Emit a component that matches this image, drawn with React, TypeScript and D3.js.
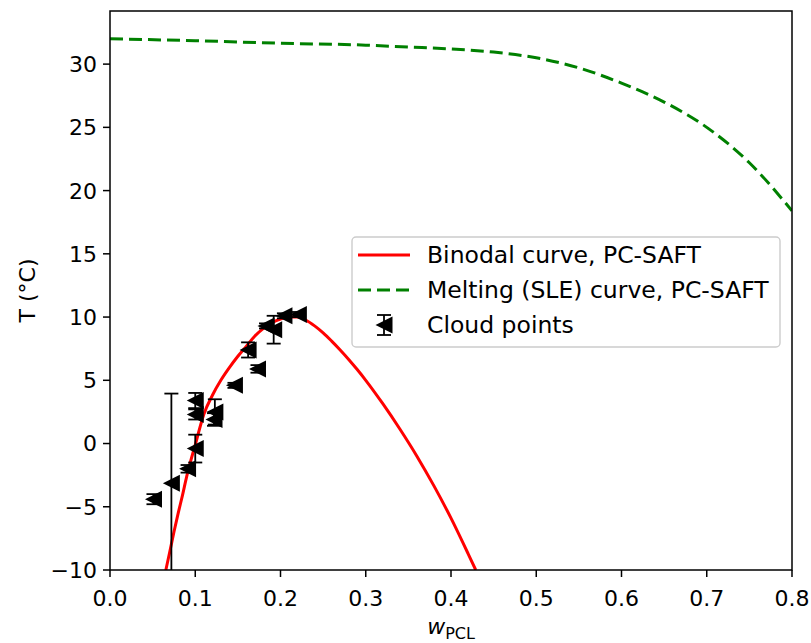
import React from "react";
import * as d3 from "d3";

// binodal curve (PC-SAFT)
const binodalW = [0.0655, 0.07, 0.075, 0.08, 0.085, 0.09, 0.095, 0.1, 0.11, 0.12, 0.13, 0.14, 0.15, 0.16, 0.17, 0.18, 0.19, 0.2, 0.21, 0.22, 0.23, 0.24, 0.25, 0.26, 0.27, 0.28, 0.29, 0.3, 0.32, 0.34, 0.36, 0.38, 0.4, 0.42, 0.429];
const binodalT = [-10, -8.6, -7.0, -5.5, -4.1, -2.6, -1.3, -0.1, 2.3, 3.8, 5.0, 6.0, 6.9, 7.7, 8.5, 9.1, 9.55, 9.85, 10.0, 10.0, 9.75, 9.3, 8.75, 8.1, 7.4, 6.65, 5.85, 5.0, 3.15, 1.15, -1.0, -3.35, -5.9, -8.7, -10];

// melting (SLE) curve
const sleW = [0, 0.1, 0.2, 0.3, 0.35, 0.4, 0.45, 0.5, 0.55, 0.6, 0.65, 0.7, 0.75, 0.8];
const sleT = [32.0, 31.85, 31.65, 31.5, 31.35, 31.2, 30.95, 30.5, 29.7, 28.5, 27.0, 25.0, 22.2, 18.4];

// cloud points with error
const cloudW = [0.051, 0.072, 0.091, 0.1, 0.1, 0.1, 0.123, 0.122, 0.146, 0.173, 0.162, 0.183, 0.192, 0.204, 0.221];
const cloudT = [-4.4, -3.15, -2.0, -0.4, 3.4, 2.3, 2.5, 1.9, 4.6, 5.9, 7.4, 9.3, 9.0, 10.1, 10.2];
const cloudErr = [0.4, 7.1, 0.3, 1.1, 0.6, 0.4, 1.0, 0.5, 0.2, 0.3, 0.6, 0.2, 1.1, 0.2, 0.2];

const xTicks = [0, 0.1, 0.2, 0.3, 0.4, 0.5, 0.6, 0.7, 0.8];
const yTicks = [-10, -5, 0, 5, 10, 15, 20, 25, 30];

const legendLabels = ["Binodal curve, PC-SAFT", "Melting (SLE) curve, PC-SAFT", "Cloud points"];

const W = 811, H = 643;
const margin = { left: 110, right: 19, top: 11, bottom: 73 };
const font = "DejaVu Sans, sans-serif";

const tri = (x: number, y: number, r: number) =>
  `M${x - r},${y}L${x + r},${y - r}L${x + r},${y + r}Z`;

export default function App() {
  const x = d3.scaleLinear().domain([0, 0.8]).range([margin.left, W - margin.right]);
  const y = d3.scaleLinear().domain([-10, 34.2]).range([H - margin.bottom, margin.top]);

  const line = d3.line<[number, number]>().x(d => x(d[0])).y(d => y(d[1])).curve(d3.curveMonotoneX);
  const binodal = line(binodalW.map((w, i) => [w, binodalT[i]]) as [number, number][]);
  const sle = line(sleW.map((w, i) => [w, sleT[i]]) as [number, number][]);

  const x0 = x(0), x1 = x(0.8), y0 = y(-10), y1 = y(34.2);
  const cap = 7;
  const ms = 8.5;

  const lg = { x: 352, y: 237, w: 428, h: 110 };
  const rowY = [255, 290, 325];

  return (
    <div style={{ position: "absolute", left: 0, top: 0 }}>
      <svg width={W} height={H} style={{ display: "block", background: "white" }}>
        <defs>
          <clipPath id="plotArea">
            <rect x={x0} y={y1} width={x1 - x0} height={y0 - y1} />
          </clipPath>
        </defs>

        <g clipPath="url(#plotArea)">
          <path d={binodal ?? ""} fill="none" stroke="#ff0000" strokeWidth={3} />
          <path d={sle ?? ""} fill="none" stroke="#008000" strokeWidth={3} strokeDasharray="13,6" />
          {cloudW.map((w, i) => {
            const cx = x(w), cy = y(cloudT[i]);
            const top = y(cloudT[i] + cloudErr[i]), bot = y(cloudT[i] - cloudErr[i]);
            return (
              <g key={i}>
                <line x1={cx} x2={cx} y1={top} y2={bot} stroke="black" strokeWidth={1.8} />
                <line x1={cx - cap} x2={cx + cap} y1={top} y2={top} stroke="black" strokeWidth={1.8} />
                <line x1={cx - cap} x2={cx + cap} y1={bot} y2={bot} stroke="black" strokeWidth={1.8} />
                <path d={tri(cx, cy, ms)} fill="black" />
              </g>
            );
          })}
        </g>

        {/* frame */}
        <rect x={x0} y={y1} width={x1 - x0} height={y0 - y1} fill="none" stroke="black" strokeWidth={1.5} />

        {xTicks.map(t => (
          <g key={"x" + t}>
            <line x1={x(t)} x2={x(t)} y1={y0} y2={y0 + 7} stroke="black" strokeWidth={1.5} />
            <text x={x(t)} y={y0 + 36} textAnchor="middle" fontFamily={font} fontSize={22}>
              {t.toFixed(1)}
            </text>
          </g>
        ))}
        {yTicks.map(t => (
          <g key={"y" + t}>
            <line x1={x0 - 7} x2={x0} y1={y(t)} y2={y(t)} stroke="black" strokeWidth={1.5} />
            <text x={x0 - 13} y={y(t)} dy="0.36em" textAnchor="end" fontFamily={font} fontSize={22}>
              {t < 0 ? "\u2212" + Math.abs(t) : t}
            </text>
          </g>
        ))}

        <text transform={`translate(35,${(y0 + y1) / 2}) rotate(-90)`} textAnchor="middle" fontFamily={font} fontSize={22}>
          T (°C)
        </text>
        <text x={(x0 + x1) / 2} y={634} textAnchor="middle" fontFamily={font} fontSize={22}>
          <tspan fontStyle="italic">w</tspan>
          <tspan fontSize={16} dy={5}>PCL</tspan>
        </text>

        {/* legend */}
        <rect x={lg.x} y={lg.y} width={lg.w} height={lg.h} rx={4} fill="white" fillOpacity={0.8} stroke="#cccccc" strokeWidth={1.4} />
        <line x1={358} x2={410} y1={rowY[0]} y2={rowY[0]} stroke="#ff0000" strokeWidth={3} />
        <line x1={358} x2={410} y1={rowY[1]} y2={rowY[1]} stroke="#008000" strokeWidth={3} strokeDasharray="13,6" />
        <g>
          <line x1={384} x2={384} y1={rowY[2] - 10} y2={rowY[2] + 10} stroke="black" strokeWidth={1.8} />
          <line x1={384 - cap} x2={384 + cap} y1={rowY[2] - 10} y2={rowY[2] - 10} stroke="black" strokeWidth={1.8} />
          <line x1={384 - cap} x2={384 + cap} y1={rowY[2] + 10} y2={rowY[2] + 10} stroke="black" strokeWidth={1.8} />
          <path d={tri(384, rowY[2], ms)} fill="black" />
        </g>
        {legendLabels.map((l, i) => (
          <text key={l} x={427} y={rowY[i]} dy="0.36em" fontFamily={font} fontSize={23.5}>
            {l}
          </text>
        ))}
      </svg>
    </div>
  );
}
